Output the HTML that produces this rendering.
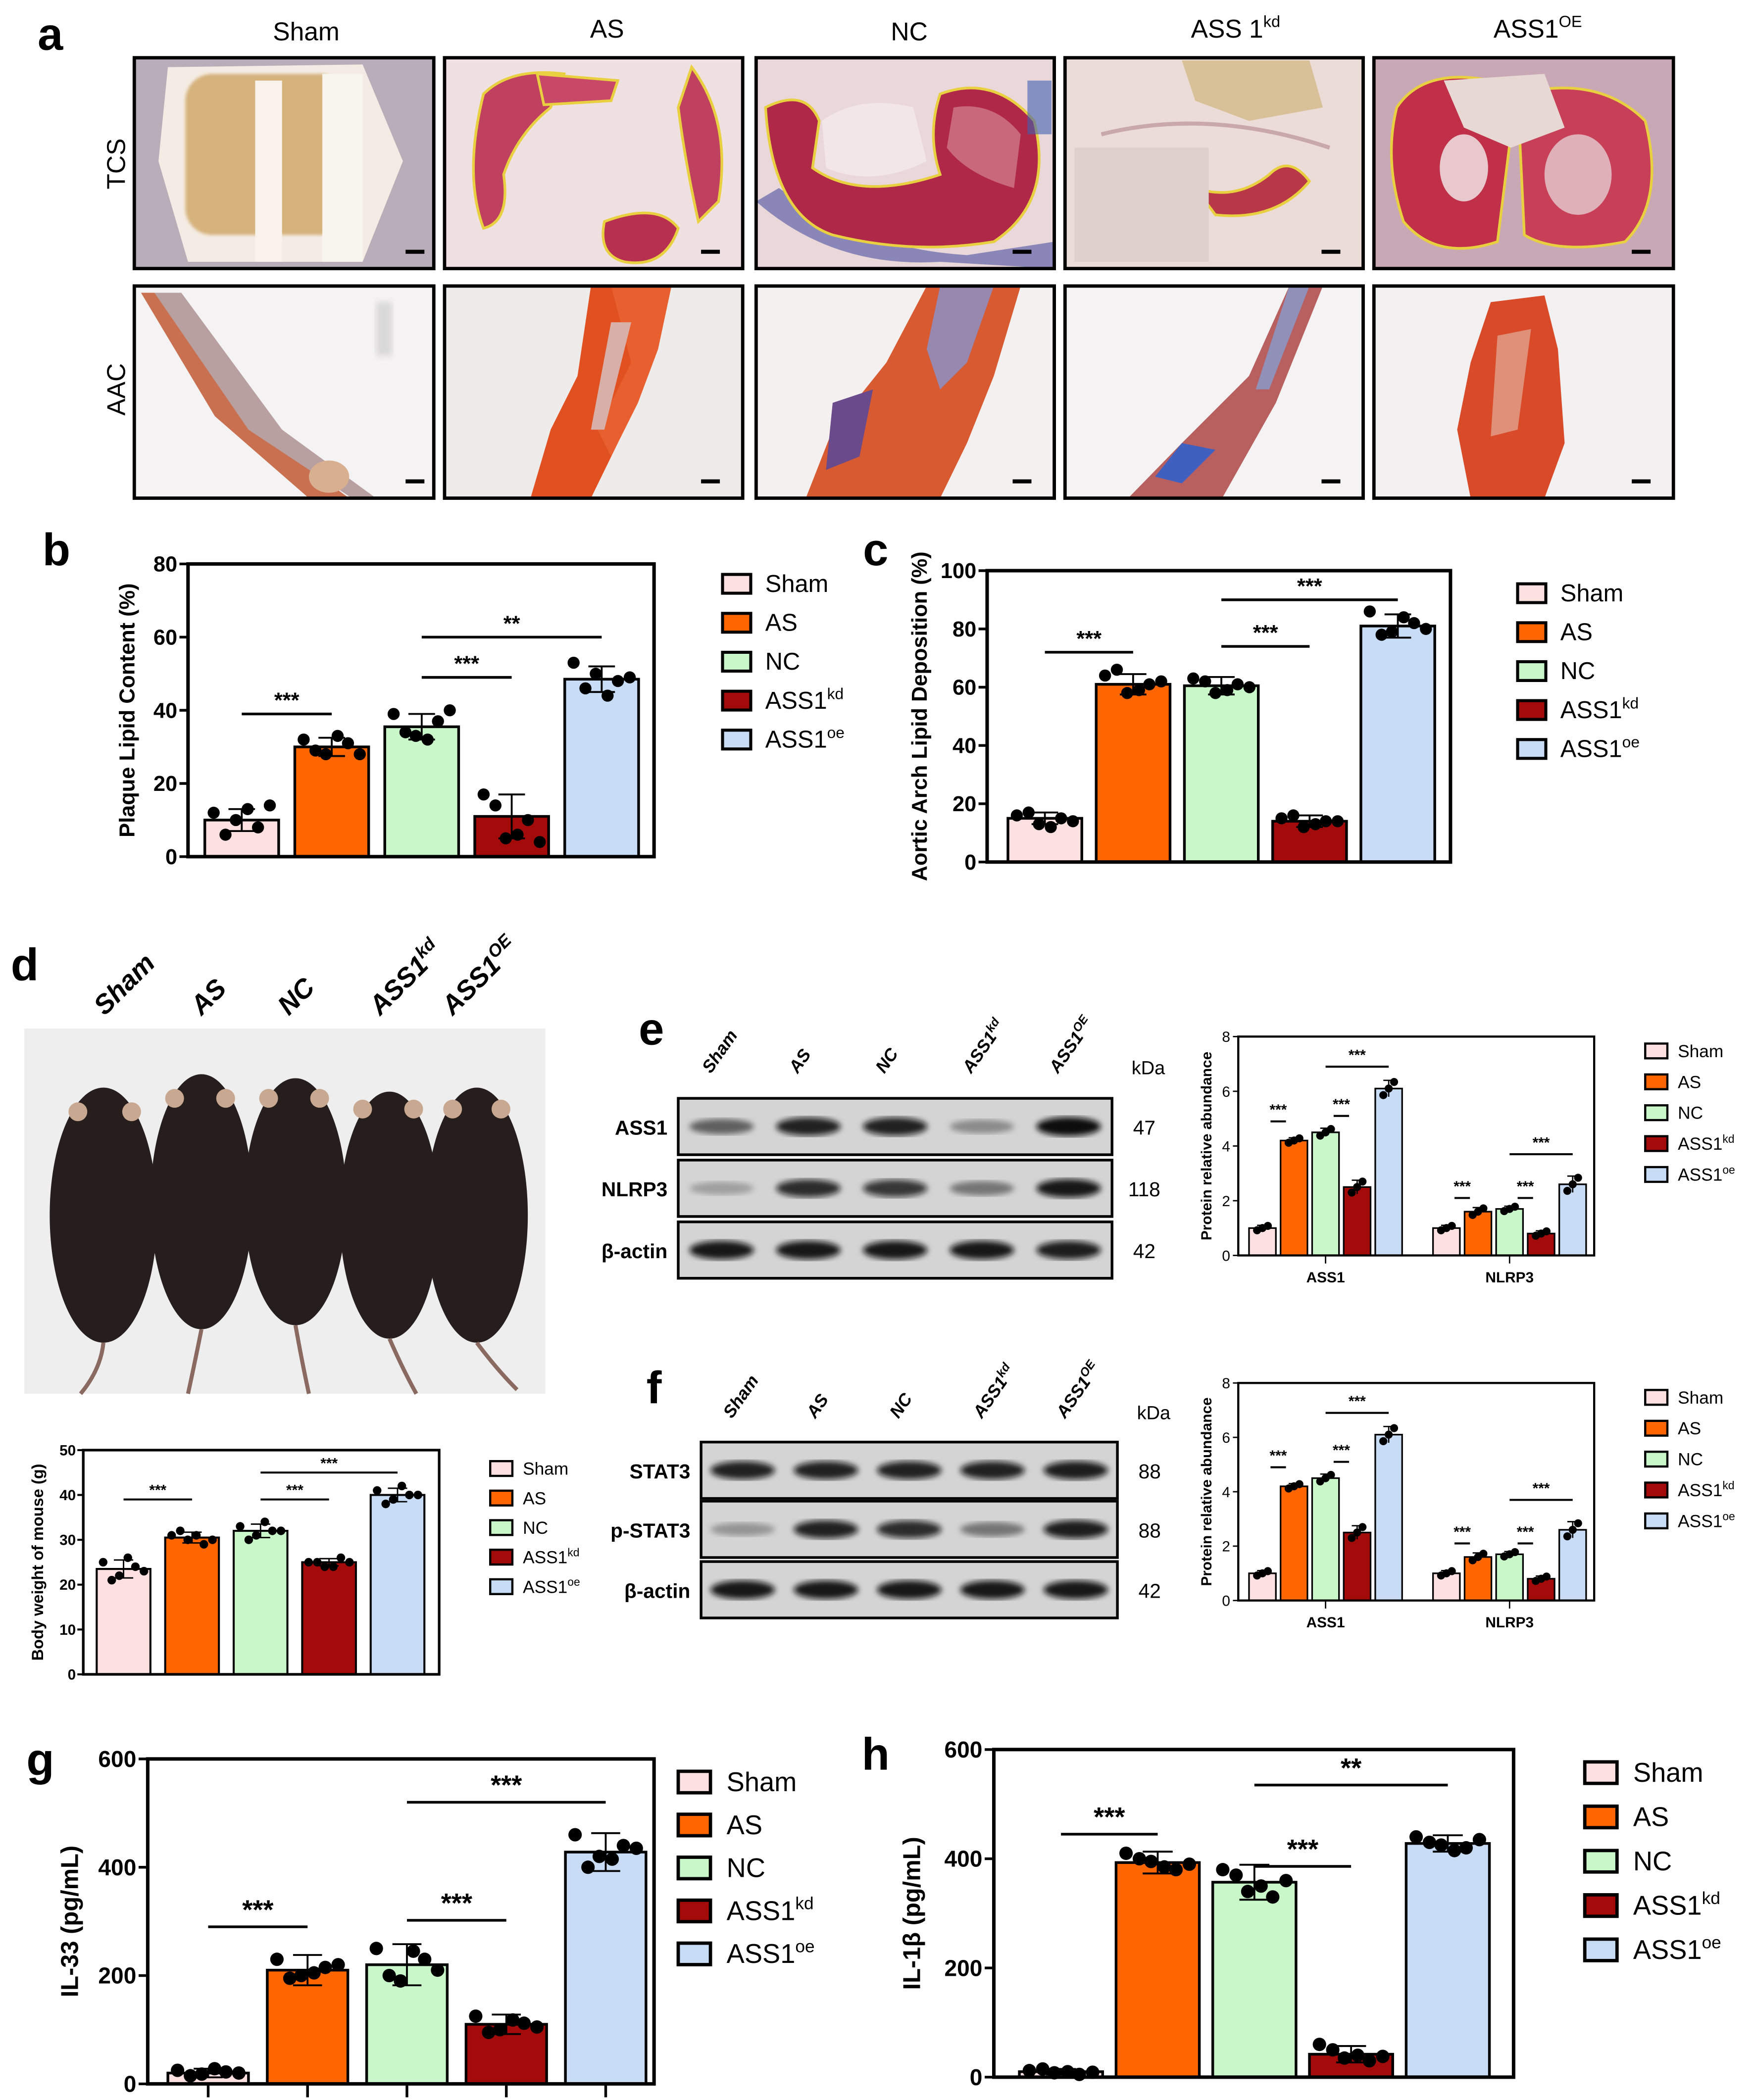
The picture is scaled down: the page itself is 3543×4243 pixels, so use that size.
<!DOCTYPE html>
<html><head><meta charset="utf-8"><style>
html,body{margin:0;padding:0;background:#fff}
svg{display:block}
text{font-family:"Liberation Sans",Arial,sans-serif}
</style></head><body>
<svg id="fig" xmlns="http://www.w3.org/2000/svg" width="3543" height="4243" viewBox="0 0 1306 1564">
<defs>
<filter id="blur2"><feGaussianBlur stdDeviation="2.2"/></filter>
<filter id="blur1"><feGaussianBlur stdDeviation="1.2"/></filter>
</defs>
<rect width="1306" height="1564" fill="#fff"/>
<!-- Panel a -->
<g id="panelA">
<text x="28" y="37" font-size="34" font-weight="bold">a</text>
<text x="228" y="30" font-size="19" text-anchor="middle">Sham</text>
<text x="452" y="28" font-size="19" text-anchor="middle">AS</text>
<text x="677" y="30" font-size="19" text-anchor="middle">NC</text>
<text x="920" y="28" font-size="19" text-anchor="middle">ASS 1<tspan font-size="12" dy="-8">kd</tspan></text>
<text x="1145" y="28" font-size="19" text-anchor="middle">ASS1<tspan font-size="12" dy="-8">OE</tspan></text>
<text transform="translate(93,122) rotate(-90)" font-size="19" text-anchor="middle">TCS</text>
<text transform="translate(93,290) rotate(-90)" font-size="19" text-anchor="middle">AAC</text>

<g>
<rect x="100" y="43" width="223" height="157" fill="#b8adb8"/>
<path d="M125 50 L270 48 L300 120 L270 195 L140 195 L118 120 Z" fill="#f4ece4"/>
<rect x="138" y="55" width="120" height="120" rx="20" fill="#d6b27c" filter="url(#blur1)"/>
<rect x="190" y="60" width="20" height="135" fill="#f8f2ea"/>
<rect x="240" y="55" width="30" height="140" fill="#f8f4ee"/>
</g>
<g>
<rect x="331" y="43" width="222" height="157" fill="#efe0e2"/>
<path d="M360 70 Q380 50 420 55 L410 80 Q385 100 375 130 Q380 165 360 170 Q345 130 360 70Z" fill="#c04060" stroke="#e8d040" stroke-width="2"/>
<path d="M515 50 Q545 90 535 150 L520 165 Q510 120 505 80Z" fill="#c04060" stroke="#e8d040" stroke-width="2"/>
<path d="M450 165 Q490 150 505 170 Q495 200 465 195 Q445 190 450 165Z" fill="#b83050" stroke="#e8d040" stroke-width="2"/>
<path d="M400 55 L460 60 L455 75 L405 78Z" fill="#c84868" stroke="#e8d040" stroke-width="2"/>
</g>
<g>
<rect x="563" y="43" width="222" height="157" fill="#e9d7da"/>
<path d="M563 150 Q620 200 700 195 L785 200 L785 180 L720 190 Q640 185 580 140Z" fill="#8a86b8"/>
<path d="M570 80 Q600 65 610 90 L605 125 Q640 150 700 130 Q690 100 700 70 Q740 55 770 90 Q785 150 740 180 Q680 190 620 175 Q575 160 570 80Z" fill="#b02848" stroke="#e8d040" stroke-width="2"/>
<path d="M612 90 Q640 70 680 80 L690 120 Q650 140 615 125Z" fill="#f3e6e6"/>
<path d="M710 80 Q740 75 760 100 L755 140 Q720 130 705 110Z" fill="#c86878"/>
<rect x="765" y="60" width="18" height="40" fill="#4060b0" opacity=".6"/>
</g>
<g>
<rect x="793" y="43" width="222" height="157" fill="#ecdcd8"/>
<path d="M880 45 L975 45 L985 80 L930 90 L890 75Z" fill="#d8c098"/>
<path d="M820 100 Q900 80 990 110" stroke="#c8a8a8" stroke-width="3" fill="none"/>
<path d="M890 140 Q920 150 945 130 Q960 115 975 135 Q950 165 905 160Z" fill="#b83848" stroke="#e8d040" stroke-width="2"/>
<rect x="800" y="110" width="100" height="85" fill="#e0d0cc"/>
</g>
<g>
<rect x="1023" y="43" width="223" height="157" fill="#c8a8b4"/>
<path d="M1040 80 Q1060 50 1110 60 L1125 100 L1115 180 Q1070 195 1045 165 Q1030 120 1040 80Z" fill="#c03048" stroke="#e8d040" stroke-width="2"/>
<path d="M1130 70 Q1190 55 1225 90 Q1240 150 1210 180 Q1160 190 1135 175Z" fill="#c84058" stroke="#e8d040" stroke-width="2"/>
<path d="M1075 60 L1150 55 L1165 95 L1125 110 L1090 95Z" fill="#e8d8d4"/>
<ellipse cx="1090" cy="125" rx="18" ry="25" fill="#e8c8cc"/>
<ellipse cx="1175" cy="130" rx="25" ry="30" fill="#e0b0b8"/>
</g>
<g>
<rect x="100" y="213" width="223" height="158" fill="#f4f2f2"/>
<path d="M105 218 L120 218 L190 320 L260 371 L230 371 L160 310 Z" fill="#c87050"/>
<path d="M115 218 L135 218 L210 320 L280 371 L262 371 L185 320Z" fill="#b8a0a0"/>
<ellipse cx="245" cy="355" rx="15" ry="12" fill="#d8b090"/>
<rect x="280" y="225" width="12" height="40" fill="#c8c8c8" opacity=".6" filter="url(#blur2)"/>
</g>
<g>
<rect x="331" y="213" width="222" height="158" fill="#eeeceb"/>
<path d="M440 213 L490 213 L470 280 L460 330 L440 371 L395 371 L410 320 L430 280 Z" fill="#e05020"/>
<path d="M455 213 L500 213 L490 260 L475 300 L455 340 L445 320 L470 270Z" fill="#e86030"/>
<path d="M455 240 L470 240 L450 320 L440 320Z" fill="#d8b0a8"/>
</g>
<g>
<rect x="563" y="213" width="222" height="158" fill="#f4f0f0"/>
<path d="M690 213 L760 213 L740 280 L720 330 L700 371 L600 371 L620 320 L660 270Z" fill="#d85a30"/>
<path d="M700 213 L740 213 L720 270 L700 290 L690 260Z" fill="#9888b0"/>
<path d="M620 300 L650 290 L640 340 L615 350Z" fill="#6a4a8a"/>
</g>
<g>
<rect x="793" y="213" width="222" height="158" fill="#f4f2f2"/>
<path d="M960 213 L985 213 L950 300 L910 371 L840 371 L880 330 L930 280Z" fill="#b86060"/>
<path d="M960 213 L975 213 L945 290 L935 290Z" fill="#9090b8"/>
<path d="M880 330 L905 335 L880 360 L860 355Z" fill="#4060c0"/>
</g>
<g>
<rect x="1023" y="213" width="223" height="158" fill="#f2f0f0"/>
<path d="M1110 225 L1150 220 L1160 260 L1165 330 L1150 371 L1095 371 L1085 320 L1095 270Z" fill="#d84a28"/>
<path d="M1115 250 L1140 245 L1130 320 L1110 325Z" fill="#e09078"/>
</g>
<g fill="none" stroke="#000" stroke-width="2.5">
<rect x="100" y="43" width="223" height="157"/><rect x="331" y="43" width="222" height="157"/><rect x="563" y="43" width="222" height="157"/><rect x="793" y="43" width="222" height="157"/><rect x="1023" y="43" width="223" height="157"/>
<rect x="100" y="213" width="223" height="158"/><rect x="331" y="213" width="222" height="158"/><rect x="563" y="213" width="222" height="158"/><rect x="793" y="213" width="222" height="158"/><rect x="1023" y="213" width="223" height="158"/>
</g>
<g fill="#000">
<rect x="302" y="186" width="14" height="3"/><rect x="522" y="186" width="14" height="3"/><rect x="754" y="186" width="14" height="3"/><rect x="984" y="186" width="14" height="3"/><rect x="1215" y="186" width="14" height="3"/>
<rect x="302" y="357" width="14" height="3"/><rect x="522" y="357" width="14" height="3"/><rect x="754" y="357" width="14" height="3"/><rect x="984" y="357" width="14" height="3"/><rect x="1215" y="357" width="14" height="3"/>
</g>
</g>

<g>
<text x="8" y="730" font-size="34" font-weight="bold">d</text>
<g font-size="20" font-weight="bold" font-style="italic">
<text transform="translate(78,757) rotate(-45)">Sham</text>
<text transform="translate(150,757) rotate(-45)">AS</text>
<text transform="translate(215,757) rotate(-45)">NC</text>
<text transform="translate(283,757) rotate(-45)">ASS1<tspan font-size="13" dy="-8">kd</tspan></text>
<text transform="translate(337,757) rotate(-45)">ASS1<tspan font-size="13" dy="-8">OE</tspan></text>
</g>
<rect x="18" y="766" width="388" height="272" fill="#eeeeee"/>
<g fill="#251e1c">
<ellipse cx="77" cy="905" rx="40" ry="95"/><ellipse cx="150" cy="895" rx="38" ry="95"/><ellipse cx="220" cy="895" rx="38" ry="92"/><ellipse cx="290" cy="905" rx="37" ry="92"/><ellipse cx="355" cy="905" rx="38" ry="95"/>
</g>
<g fill="#c8a890">
<circle cx="58" cy="828" r="7"/><circle cx="98" cy="828" r="7"/><circle cx="130" cy="818" r="7"/><circle cx="168" cy="818" r="7"/><circle cx="200" cy="818" r="7"/><circle cx="238" cy="818" r="7"/><circle cx="270" cy="826" r="7"/><circle cx="308" cy="826" r="7"/><circle cx="337" cy="826" r="7"/><circle cx="373" cy="826" r="7"/>
</g>
<g stroke="#8a6a60" stroke-width="3" fill="none">
<path d="M77 1000 Q75 1020 60 1038"/><path d="M150 990 Q145 1015 140 1038"/><path d="M220 987 Q225 1015 230 1038"/><path d="M290 997 Q300 1020 310 1038"/><path d="M355 1000 Q370 1020 385 1035"/>
</g>
</g>

<g id="blots"></g>
<g id="charts"></g>
</svg>
<script>
const NS='http://www.w3.org/2000/svg';
const groups=['Sham','AS','NC','ASS1kd','ASS1oe'];
const colors=['#fde0e0','#ff6600','#c9f7c9','#a30b0b','#c8dcf5'];
const bMeans=[10,30,35.5,11,48.5];
const bSD=[3,2.5,3.5,6,3.5];
const bPts=[[12,10,8,6,13,14],[32,28,31,29,33,28],[39,33,37,34,32,40],[17,5,10,14,6,4],[53,50,48,46,44,49]];
const bSig=[[0,1,'***',39],[2,3,'***',49],[2,4,'**',60]];
const bTicks=[0,20,40,60,80];
const cMeans=[15,61,60.5,14,81];
const cSD=[2,3.5,3,2,4];
const cPts=[[16,13,15,17,12,14],[64,58,61,66,59,62],[63,58,61,62,59,60],[15,12,14,16,13,14],[86,79,82,78,84,80]];
const cSig=[[0,1,'***',72],[2,3,'***',74],[2,4,'***',90]];
const cTicks=[0,20,40,60,80,100];
const dMeans=[23.5,30.5,32,25,40];
const dSD=[2,1.2,1.5,0.8,1.5];
const dPts=[[25,22,24,21,26,23],[31,30,29,32,31,30],[33,31,32,30,34,32],[25,24,26,25,24,25],[41,39,40,38,42,40]];
const dSig=[[0,1,'***',39],[2,3,'***',39],[2,4,'***',45]];
const dTicks=[0,10,20,30,40,50];
const proteins=['ASS1','NLRP3'];
const eMeans=[[1,4.2,4.5,2.5,6.1],[1,1.6,1.7,0.8,2.6]];
const eSD=[[0.1,0.1,0.15,0.25,0.3],[0.1,0.15,0.1,0.1,0.3]];
const eSig=[[[0,1,'***',4.9],[2,3,'***',5.1],[2,4,'***',6.9]],[[0,1,'***',2.1],[2,3,'***',2.1],[2,4,'***',3.7]]];
const eTicks=[0,2,4,6,8];
const gMeans=[20,210,220,110,428];
const gSD=[8,28,38,18,35];
const gPts=[[25,18,22,15,28,20],[230,200,215,195,205,220],[250,190,230,200,245,210],[125,100,112,95,118,105],[460,420,440,400,415,435]];
const gSig=[[0,1,'***',290],[2,3,'***',302],[2,4,'***',520]];
const gTicks=[0,200,400,600];
const hMeans=[10,393,357,42,428];
const hSD=[5,20,32,15,15];
const hPts=[[12,8,5,15,10,9],[410,395,380,400,385,390],[380,340,330,370,350,360],[60,35,30,50,40,38],[440,425,420,430,415,435]];
const hSig=[[0,1,'***',445],[2,3,'***',386],[2,4,'**',535]];
const gyTicks=[0,200,400,600];

const root=document.getElementById('charts');
function el(tag,attrs,parent){const e=document.createElementNS(NS,tag);for(const k in attrs)e.setAttribute(k,attrs[k]);(parent||root).appendChild(e);return e;}
function txt(x,y,s,size,parent,anchor,extra){const t=el('text',Object.assign({x:x,y:y,'font-size':size,'text-anchor':anchor||'middle'},extra||{}),parent);t.textContent=s;return t;}
function labelWithSup(t,name,size){
  const m=name.match(/^(ASS1)(kd|oe)$/);
  if(m){t.textContent=m[1];const s=document.createElementNS(NS,'tspan');s.setAttribute('font-size',size*0.65);s.setAttribute('dy',-size*0.4);s.textContent=m[2];t.appendChild(s);}
  else t.textContent=name;
}
function legend(x,y,step,size,box,parent,name){
  const g=el('g',{},parent);
  
  
  groups.forEach((gname,i)=>{
    const r=el('rect',{x:x,y:y+i*step-box*0.8,width:box*1.5,height:box,fill:colors[i],stroke:'#000','stroke-width':size/8},g);
    
    
    const t=el('text',{x:x+box*1.5+size*0.6,y:y+i*step+size*0.1,'font-size':size},g);
    
    
    labelWithSup(t,gname,size);
  });
}
function barChart(o){
  const g=el('g',{});
  
  
  const ys=v=>o.y0-(v/o.max)*(o.y0-o.y1);
  const lw=o.lw;
  const sfs=o.sfs||o.fs;
  o.means.forEach((m,i)=>{
    const cx=o.first+i*o.step;
    const b=el('rect',{x:cx-o.bw/2,y:ys(m),width:o.bw,height:o.y0-ys(m),fill:colors[i],stroke:'#000','stroke-width':lw},g);
    
    
    const sd=o.sd[i];
    el('path',{d:`M${cx} ${ys(m-sd)}V${ys(m+sd)}M${cx-o.bw*0.18} ${ys(m+sd)}h${o.bw*0.36}M${cx-o.bw*0.18} ${ys(m-sd)}h${o.bw*0.36}`,stroke:'#000','stroke-width':lw*0.7,fill:'none'},g);
    if(o.pts){o.pts[i].forEach((p,j)=>{
      const dx=(j%3-1)*o.bw*0.3+(j>=3?o.bw*0.08:-o.bw*0.08);
      const c=el('circle',{cx:cx+dx,cy:ys(p),r:o.dot,fill:'#000'},g);
      
      
    });}
  });
  o.sig.forEach(s=>{
    const xa=o.first+s[0]*o.step,xb=o.first+s[1]*o.step;
    el('line',{x1:xa,x2:xb,y1:ys(s[3]),y2:ys(s[3]),stroke:'#000','stroke-width':lw},g);
    txt((xa+xb)/2,ys(s[3])-sfs*0.3,s[2],sfs,g,'middle',{'font-weight':'bold'});
  });
  el('rect',{x:o.x0,y:o.y1,width:o.x1-o.x0,height:o.y0-o.y1,fill:'none',stroke:'#000','stroke-width':lw*1.3},g);
  o.ticks.forEach(t=>{
    el('line',{x1:o.x0-o.fs*0.4,x2:o.x0,y1:ys(t),y2:ys(t),stroke:'#000','stroke-width':lw},g);
    txt(o.x0-o.fs*0.5,ys(t)+o.fs*0.35,String(t),o.fs,g,'end',{'font-weight':'bold'});
  });
  if(o.xticks){o.means.forEach((m,i)=>{const cx=o.first+i*o.step;el('line',{x1:cx,x2:cx,y1:o.y0,y2:o.y0+10,stroke:'#000','stroke-width':lw},g);});}
  const yl=el('text',{transform:`translate(${o.ylx},${(o.y0+o.y1)/2}) rotate(-90)`,'font-size':o.yfs,'text-anchor':'middle','font-weight':'bold'},g);
  
  
  yl.textContent=o.ylabel;
}
txt(42,421,'b',34,root,'middle',{'font-weight':'bold'});
barChart({name:'plaque-lipid-chart',x0:140,x1:487,y0:638,y1:420,max:80,first:180,step:67,bw:55,means:bMeans,sd:bSD,pts:bPts,sig:bSig,ticks:bTicks,lw:2,dot:4.5,fs:16,ylx:100,yfs:16,ylabel:'Plaque Lipid Content (%)'});
legend(538,439,29,18,14,root,'legend-b');
txt(652,421,'c',34,root,'middle',{'font-weight':'bold'});
barChart({name:'aortic-arch-chart',x0:735,x1:1080,y0:642,y1:425,max:100,first:778,step:65.7,bw:55,means:cMeans,sd:cSD,pts:cPts,sig:cSig,ticks:cTicks,lw:2,dot:4.5,fs:16,ylx:690,yfs:16,ylabel:'Aortic Arch Lipid Deposition (%)'});
legend(1130,446,29,18,14,root,'legend-c');
barChart({name:'body-weight-chart',x0:62,x1:327,y0:1247,y1:1080,max:50,first:92,step:51,bw:40,means:dMeans,sd:dSD,pts:dPts,sig:dSig,ticks:dTicks,lw:1.5,dot:3.2,fs:11,ylx:32,yfs:12,ylabel:'Body weight of mouse (g)'});
legend(365,1097,22,13,11,root,'legend-d');
txt(30,1322,'g',34,root,'middle',{'font-weight':'bold'});
barChart({name:'il33-chart',x0:110,x1:487,y0:1552,y1:1310,max:600,first:155,step:74,bw:60,means:gMeans,sd:gSD,pts:gPts,sig:gSig,ticks:gTicks,lw:2,dot:5,fs:17,sfs:20,ylx:58,yfs:18,ylabel:'IL-33 (pg/mL)',xticks:true});
legend(505,1332,32,20,16,root,'legend-g');
txt(652,1318,'h',34,root,'middle',{'font-weight':'bold'});
barChart({name:'il1b-chart',x0:740,x1:1127,y0:1547,y1:1303,max:600,first:790,step:72,bw:62,means:hMeans,sd:hSD,pts:hPts,sig:hSig,ticks:gyTicks,lw:2,dot:5,fs:17,sfs:20,ylx:685,yfs:18,ylabel:'IL-1β (pg/mL)'});
legend(1180,1325,33,20,16,root,'legend-h');

function groupedChart(o){
  const g=el('g',{});
  
  
  const ys=v=>o.y0-(v/8)*(o.y0-o.y1);
  proteins.forEach((p,k)=>{
    const first=o.firsts[k];
    eMeans[k].forEach((m,i)=>{
      const cx=first+i*23.5;
      const b=el('rect',{x:cx-10,y:ys(m),width:20,height:o.y0-ys(m),fill:colors[i],stroke:'#000','stroke-width':1.2},g);
      
      
      const sd=eSD[k][i];
      el('path',{d:`M${cx} ${ys(m-sd)}V${ys(m+sd)}M${cx-4} ${ys(m+sd)}h8`,stroke:'#000','stroke-width':1,fill:'none'},g);
      [-4,0,4].forEach((dx,j)=>{el('circle',{cx:cx+dx,cy:ys(m+(j-1)*sd*0.8),r:3,fill:'#000'},g);});
    });
    eSig[k].forEach(s=>{
      const xa=first+s[0]*23.5,xb=first+s[1]*23.5;
      el('line',{x1:xa+(s[1]-s[0]==1?6:0),x2:xb-(s[1]-s[0]==1?6:0),y1:ys(s[3]),y2:ys(s[3]),stroke:'#000','stroke-width':1.5},g);
      txt((xa+xb)/2,ys(s[3])-5,s[2],11,g,'middle',{'font-weight':'bold'});
    });
    const cx=first+2*23.5;
    el('line',{x1:cx,x2:cx,y1:o.y0,y2:o.y0+6,stroke:'#000','stroke-width':1},g);
    txt(cx,o.y0+20,p,11,g,'middle',{'font-weight':'bold'});
  });
  el('rect',{x:o.x0,y:o.y1,width:o.x1-o.x0,height:o.y0-o.y1,fill:'none',stroke:'#000','stroke-width':1.6},g);
  eTicks.forEach(t=>{
    el('line',{x1:o.x0-4,x2:o.x0,y1:ys(t),y2:ys(t),stroke:'#000','stroke-width':1},g);
    txt(o.x0-6,ys(t)+4,String(t),11,g,'end');
  });
  const yl=el('text',{transform:`translate(${o.x0-20},${(o.y0+o.y1)/2}) rotate(-90)`,'font-size':11,'text-anchor':'middle','font-weight':'bold'},g);
  
  
  yl.textContent='Protein relative abundance';
}
groupedChart({name:'western-e-quant-chart',x0:922,x1:1187,y0:935,y1:772,firsts:[940,1077]});
legend(1225,786,23,13,11,root,'legend-e');
groupedChart({name:'western-f-quant-chart',x0:922,x1:1187,y0:1192,y1:1030,firsts:[940,1077]});
legend(1225,1044,23,13,11,root,'legend-f');

const blots=document.getElementById('blots');
const laneNames=['Sham','AS','NC','ASS1kd','ASS1OE'];
const eBands=[[0.55,0.9,0.9,0.35,1],[0.25,0.85,0.8,0.45,0.95],[0.95,0.95,0.95,0.95,0.92]];
const fBands=[[0.9,0.9,0.9,0.9,0.92],[0.3,0.9,0.85,0.45,0.92],[0.95,0.95,0.95,0.95,0.95]];
const eRows=['ASS1','NLRP3','β-actin'];const eKda=['47','118','42'];
const fRows=['STAT3','p-STAT3','β-actin'];const fKda=['88','88','42'];
function blot(o){
  const g=el('g',{},blots);
  
  
  txt(o.lx,o.ly,o.letter,34,g,'middle',{'font-weight':'bold'});
  laneNames.forEach((n,i)=>{
    const x=o.x0+ (i+0.5)*(o.x1-o.x0)/5;
    const t=el('text',{transform:`translate(${x-8},${o.labY}) rotate(-55)`,'font-size':13,'font-weight':'bold','font-style':'italic'},g);
    const m=n.match(/^(ASS1)(kd|OE)$/);
    if(m){t.textContent=m[1];const s=document.createElementNS(NS,'tspan');s.setAttribute('font-size',9);s.setAttribute('dy',-5);s.textContent=m[2];t.appendChild(s);} else t.textContent=n;
  });
  txt(o.x1+27,o.labY,'kDa',14,g,'middle');
  o.rows.forEach((r,k)=>{
    const y=o.ys[k],h=o.h;
    el('rect',{x:o.x0,y:y,width:o.x1-o.x0,height:h,fill:'#d4d4d4',stroke:'#000','stroke-width':2},g);
    o.bands[k].forEach((v,i)=>{
      const x=o.x0+(i+0.5)*(o.x1-o.x0)/5;
      el('ellipse',{cx:x,cy:y+h/2,rx:24,ry:4+v*3,fill:`rgba(10,10,10,${v})`,filter:'url(#blur2)'},g);
    });
    txt(o.x0-8,y+h/2+6,r,15,g,'end',{'font-weight':'bold'});
    txt(o.x1+24,y+h/2+6,o.kda[k],15,g,'middle');
  });
}
blot({name:'western-blot-e',letter:'e',lx:485,ly:778,x0:505,x1:828,labY:800,rows:eRows,kda:eKda,bands:eBands,ys:[818,864,910],h:42});
blot({name:'western-blot-f',letter:'f',lx:487,ly:1045,x0:522,x1:832,labY:1057,rows:fRows,kda:fKda,bands:fBands,ys:[1074,1118,1163],h:42});
</script>
</body></html>
